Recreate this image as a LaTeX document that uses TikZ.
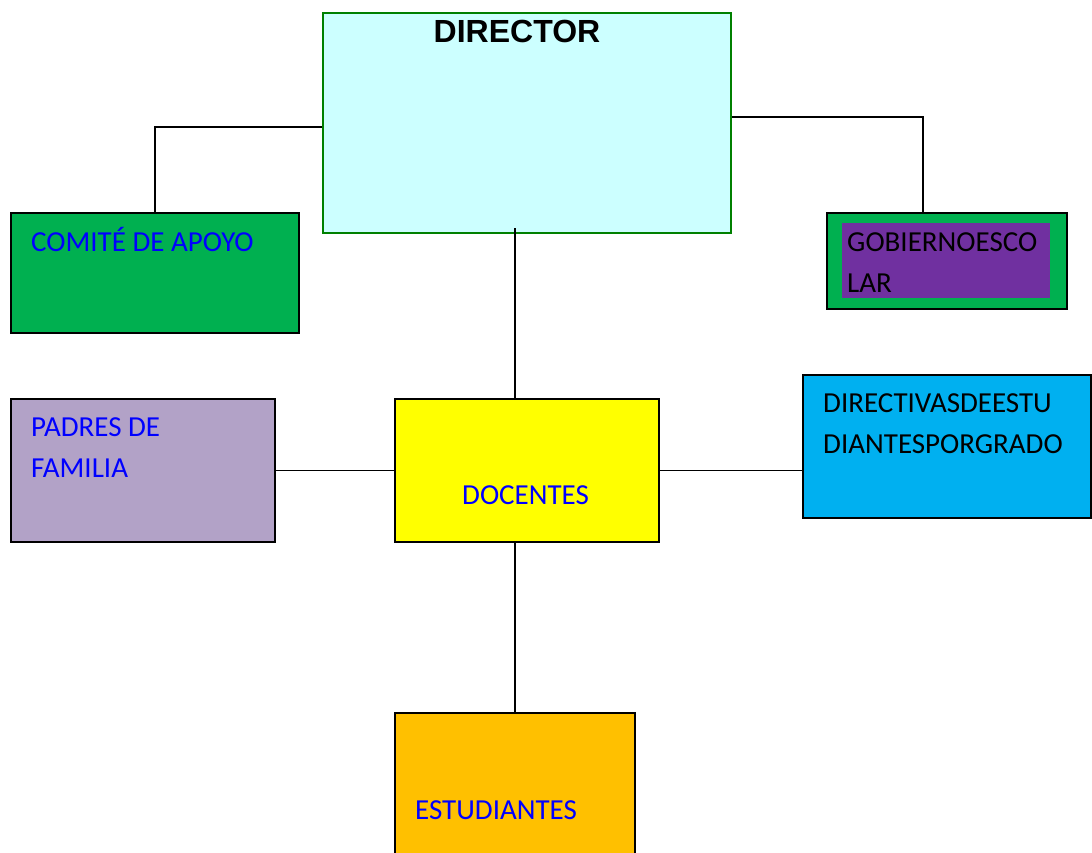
\documentclass[tikz,border=0pt]{standalone}
\usepackage{fontspec}
\setmainfont{Carlito}
\newfontfamily\arialfont{Liberation Sans}
\definecolor{dirFill}{RGB}{204,255,255}
\definecolor{dirLine}{RGB}{0,128,0}
\definecolor{apoyoFill}{RGB}{0,176,80}
\definecolor{gobiernoFill}{RGB}{112,48,160}
\definecolor{padresFill}{RGB}{178,162,199}
\definecolor{docentesFill}{RGB}{255,255,0}
\definecolor{directivasFill}{RGB}{0,176,240}
\definecolor{estudFill}{RGB}{255,192,0}

\begin{document}
\begin{tikzpicture}
[x=1pt,y=-1pt,%
  boxDecorate/.style={draw=black,line width=1.6pt,anchor=north west,inner sep=0pt},%
  lineDecorate/.style={-,line width=1.5pt},%
  textDecorate/.style={anchor=base west,inner sep=0pt,align=left,text=blue,font=\fontsize{29}{40.5}\selectfont}]
\useasboundingbox (0,0) rectangle (1092,852);
%% boxes
\node[boxDecorate,fill=dirFill,draw=dirLine,line width=2.4pt,minimum width=408,minimum height=220] (director) at (322,12) {};
\node[boxDecorate,fill=apoyoFill,minimum width=288,minimum height=120] (comite) at (10,212) {};
\node[boxDecorate,fill=apoyoFill,minimum width=240,minimum height=96] (gobierno) at (826,212) {};
\node[anchor=north west,inner sep=0pt,fill=gobiernoFill,minimum width=208,minimum height=75] (gobiernoIn) at (842,223) {};
\foreach \nodename/\x/\y/\w/\h/\colour in {
  padres/10/398/264/143/padresFill, docentes/394/398/264/143/docentesFill,
  directivas/802/374/288/143/directivasFill, estudiantes/394/712/240/170/estudFill}
{
  \node[boxDecorate,fill=\colour,minimum width=\w,minimum height=\h] (\nodename) at (\x,\y) {};
}
%% box labels (base = last line)
\node[anchor=base,inner sep=0pt,font=\arialfont\bfseries\fontsize{32}{38}\selectfont] (directorText) at (517,42) {DIRECTOR};
\node[textDecorate] (comiteText) at (31,251) {COMITÉ DE APOYO};
\node[textDecorate,text=black] (gobiernoText) at (847,292) {GOBIERNOESCO\\LAR};
\node[textDecorate] (padresText) at (31,477) {PADRES DE\\FAMILIA};
\node[textDecorate] (docentesText) at (462,504) {DOCENTES};
\node[textDecorate,text=black] (directivasText) at (823,453) {DIRECTIVASDEESTU\\DIANTESPORGRADO};
\node[textDecorate] (estudiantesText) at (415,819) {ESTUDIANTES};
%% connect boxes
\draw[lineDecorate] ([yshift=-4]director.west) -| (comite.north);
\draw[lineDecorate] ([yshift=6]director.east) -| ([xshift=-24]gobierno.north);
\draw[lineDecorate] ([xshift=-12]docentes.north) -- ([xshift=-12,yshift=6]docentes.north |- director.south);
\draw[lineDecorate] (padres.east) -- (docentes.west);
\draw[lineDecorate] (docentes.east) -- (docentes.east -| directivas.west);
\draw[lineDecorate] (estudiantes.north) -- (estudiantes.north |- docentes.south);
\end{tikzpicture}
\end{document}
